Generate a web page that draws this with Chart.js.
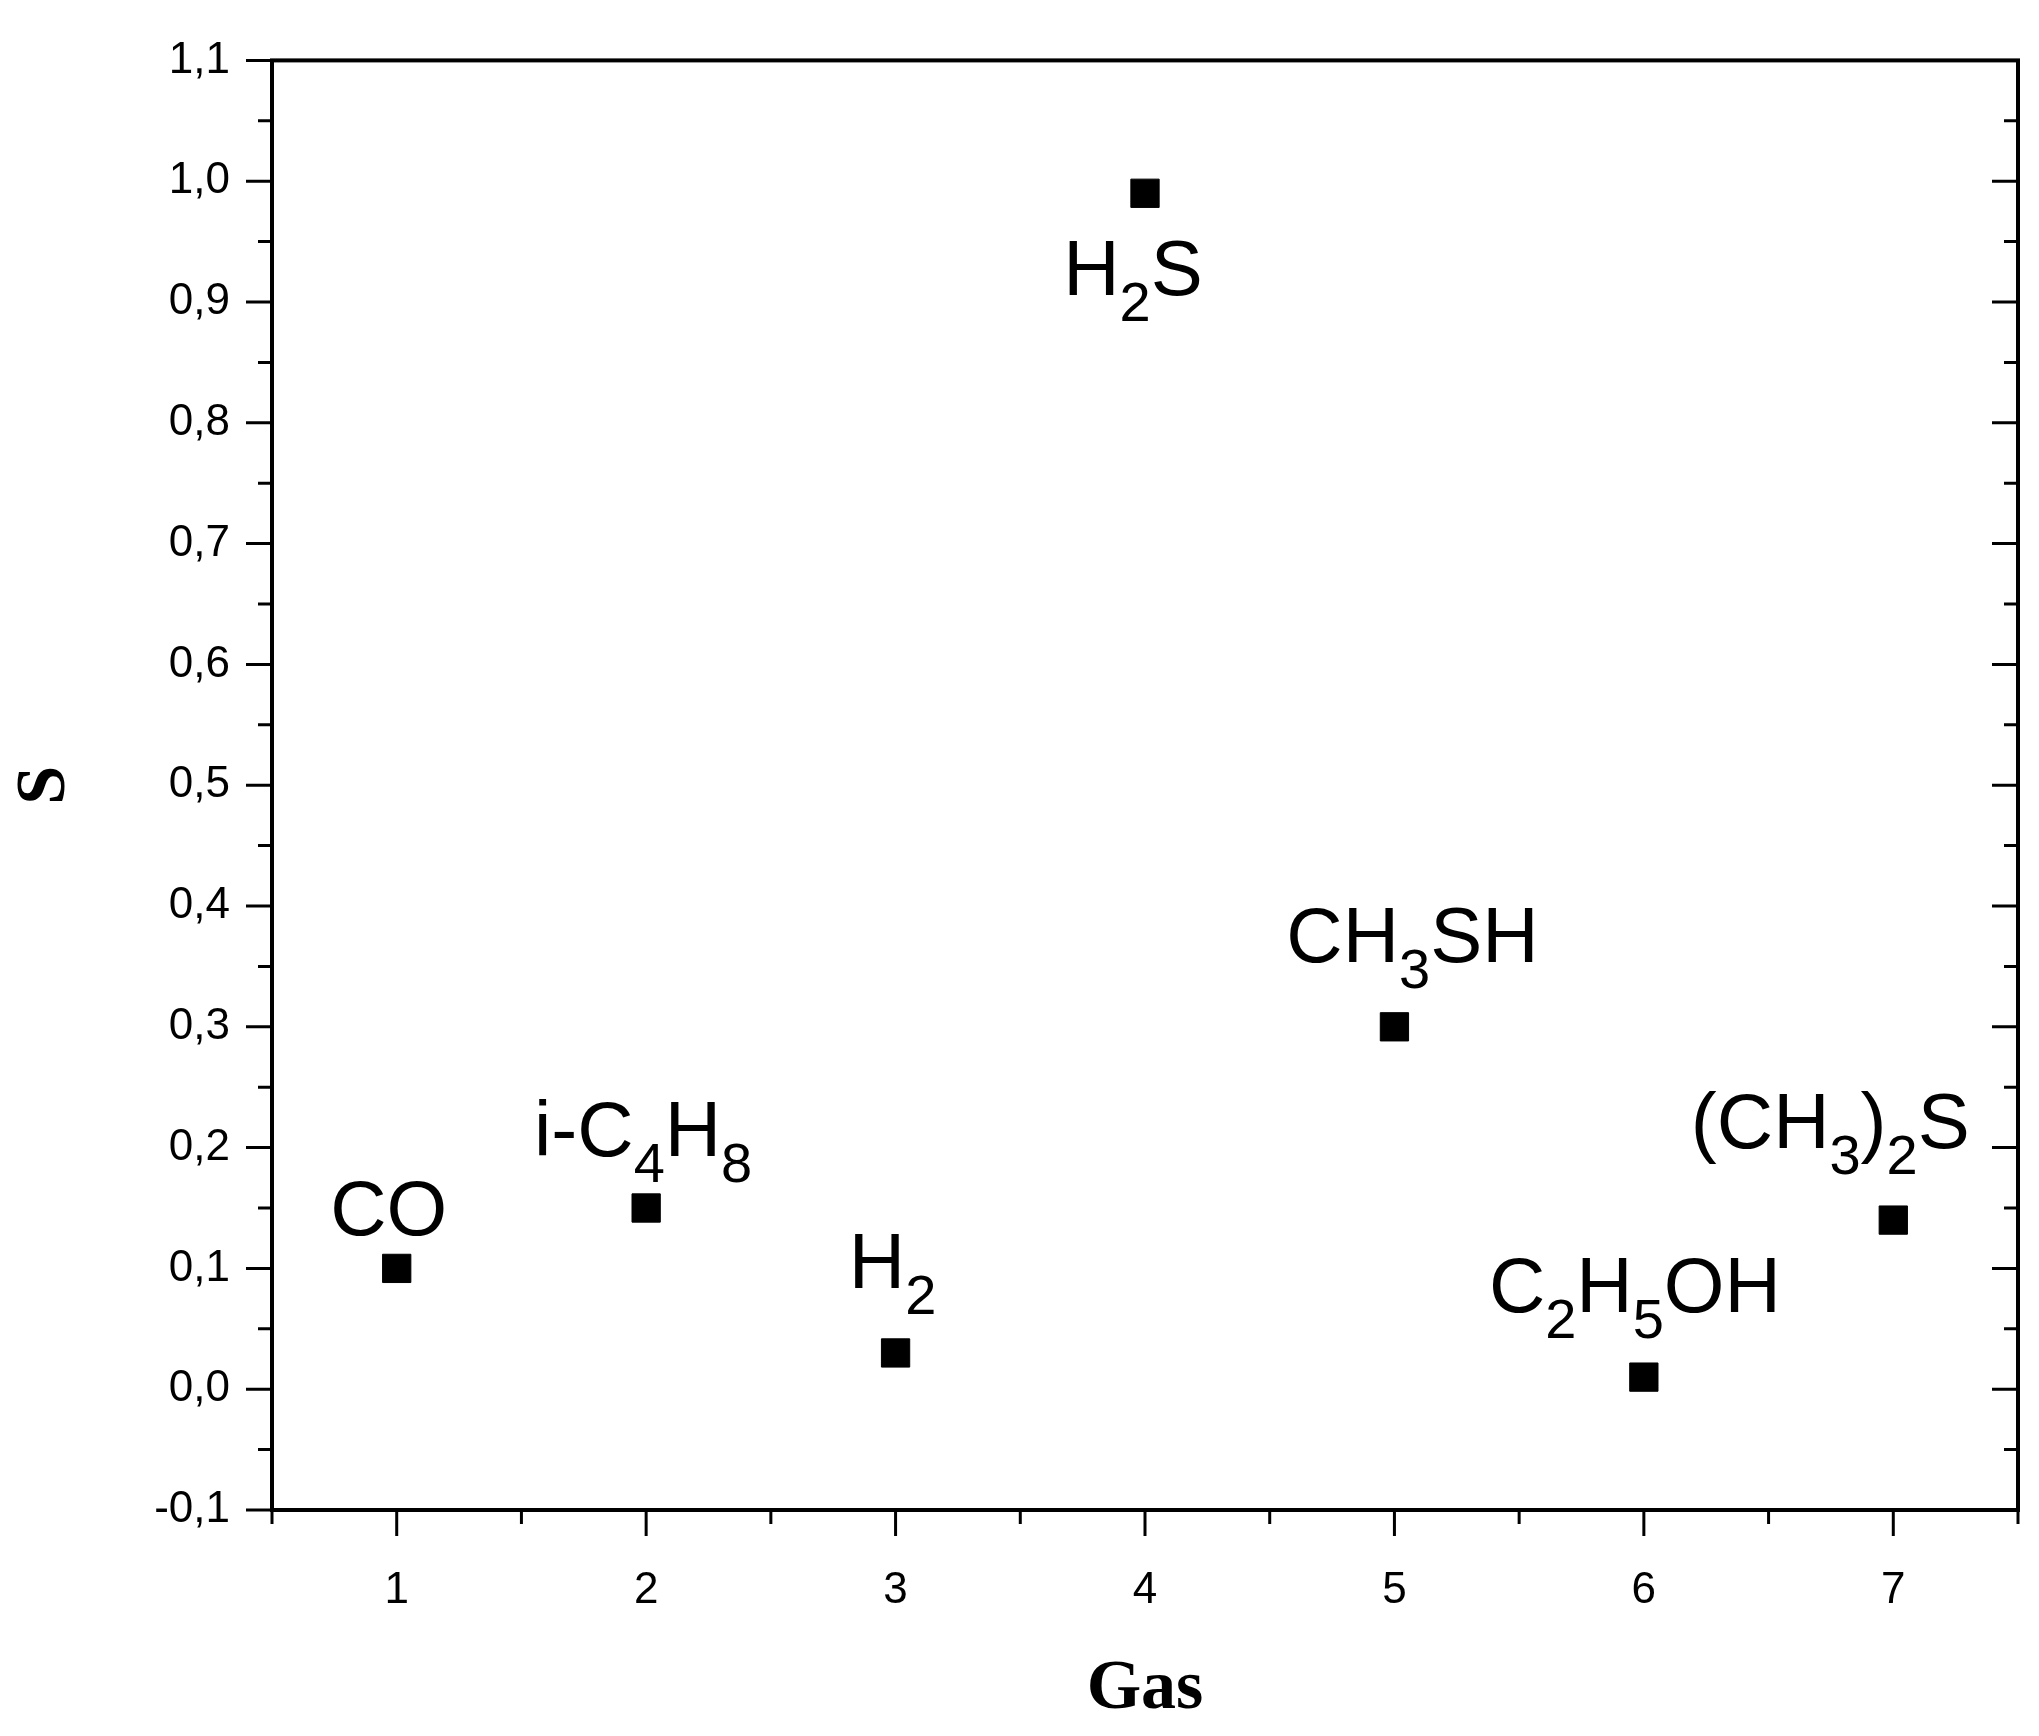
<!DOCTYPE html>
<html>
<head>
<meta charset="utf-8">
<script src="https://cdn.jsdelivr.net/npm/chart.js@4"></script>
<style>
html, body { margin: 0; padding: 0; background: #fff; }
#wrap { width: 2039px; height: 1736px; }
</style>
</head>
<body>
<div id="wrap"><canvas id="myChart"></canvas></div>
<script>
const gasIndex = [1, 2, 3, 4, 5, 6, 7];
const sValues = [0.10, 0.15, 0.03, 0.99, 0.30, 0.01, 0.14];
// label parts: [text, isSubscript]
const gasNames = [
    [['CO', false]],
    [['i-C', false], ['4', true], ['H', false], ['8', true]],
    [['H', false], ['2', true]],
    [['H', false], ['2', true], ['S', false]],
    [['CH', false], ['3', true], ['SH', false]],
    [['C', false], ['2', true], ['H', false], ['5', true], ['OH', false]],
    [['(CH', false], ['3', true], [')', false], ['2', true], ['S', false]]
];
const labelOffsets = [[-8, -33], [-3, -52], [-3, -65], [-12, 102], [18, -65], [-9, -65], [-63, -72]];

const FONT = '"Liberation Sans", Arial, sans-serif';
const SERIF = '"Liberation Serif", "Times New Roman", serif';

const decor = {
    id: 'decor',
    afterDraw(chart) {
        const c = chart.ctx, a = chart.chartArea;
        const xs = chart.scales.x, ys = chart.scales.y;
        c.save();
        c.strokeStyle = '#000';
        c.lineWidth = 4;
        // frame
        c.strokeRect(a.left, a.top, a.right - a.left, a.bottom - a.top);
        c.lineWidth = 3;
        // y ticks (left outward, right inward)
        for (let i = 0; i <= 24; i++) {
            const v = -0.1 + i * 0.05;
            const y = ys.getPixelForValue(v);
            const len = i % 2 === 0 ? 26 : 14;
            c.beginPath();
            c.moveTo(a.left - len, y); c.lineTo(a.left, y);
            c.moveTo(a.right, y); c.lineTo(a.right - len, y);
            c.stroke();
        }
        // x ticks (bottom outward)
        for (let i = 0; i <= 14; i++) {
            const v = 0.5 + i * 0.5;
            const x = xs.getPixelForValue(v);
            const len = i % 2 === 1 ? 26 : 14;
            c.beginPath();
            c.moveTo(x, a.bottom); c.lineTo(x, a.bottom + len);
            c.stroke();
        }
        // point labels
        c.fillStyle = '#000';
        c.textBaseline = 'alphabetic';
        const big = 'normal 78px ' + FONT, small = 'normal 56px ' + FONT;
        gasNames.forEach((parts, i) => {
            let w = 0;
            parts.forEach(p => { c.font = p[1] ? small : big; w += c.measureText(p[0]).width; });
            let x = xs.getPixelForValue(gasIndex[i]) + labelOffsets[i][0] - w / 2;
            const y = ys.getPixelForValue(sValues[i]) + labelOffsets[i][1];
            parts.forEach(p => {
                c.font = p[1] ? small : big;
                c.fillText(p[0], x, p[1] ? y + 26 : y);
                x += c.measureText(p[0]).width;
            });
        });
        c.restore();
    }
};

const ctx = document.getElementById('myChart').getContext('2d');
const myChart = new Chart(ctx, {
    type: 'scatter',
    data: {
        datasets: [{
            data: gasIndex.map((g, i) => ({ x: g, y: sValues[i] })),
            backgroundColor: '#000',
            borderColor: '#000',
            pointStyle: 'rect',
            pointRadius: 20,
            pointHoverRadius: 20
        }]
    },
    options: {
        responsive: true,
        maintainAspectRatio: false,
        animation: false,
        layout: { padding: { top: 56, right: 20 } },
        plugins: { legend: { display: false }, tooltip: { enabled: false } },
        scales: {
            x: {
                type: 'linear', min: 0.5, max: 7.5,
                grid: { display: false },
                border: { display: false },
                afterBuildTicks: s => { s.ticks = gasIndex.map(v => ({ value: v })); },
                ticks: {
                    padding: 46, color: '#000',
                    font: { family: FONT, size: 44 },
                    callback: v => String(v)
                },
                title: {
                    display: true, text: 'Gas', color: '#000',
                    font: { family: SERIF, size: 70, weight: 'bold' },
                    padding: { top: 40 }
                },
                afterFit: s => { s.height = 226; }
            },
            y: {
                min: -0.1, max: 1.1,
                grid: { display: false },
                border: { display: false },
                ticks: {
                    stepSize: 0.1, padding: 34, color: '#000',
                    font: { family: FONT, size: 44 },
                    callback: v => (Math.round(v * 10) / 10).toFixed(1).replace('.', ',')
                },
                title: {
                    display: true, text: 'S', color: '#000',
                    font: { family: SERIF, size: 70, weight: 'bold' }
                },
                afterFit: s => { s.width = 272; }
            }
        }
    },
    plugins: [decor]
});
</script>
</body>
</html>
